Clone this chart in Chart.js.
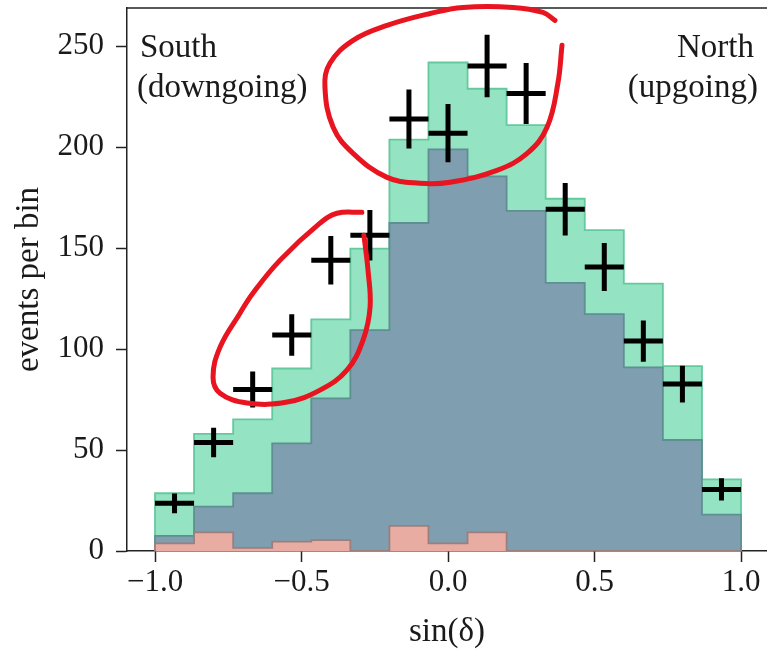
<!DOCTYPE html>
<html>
<head>
<meta charset="utf-8">
<script src="https://cdn.jsdelivr.net/npm/chart.js@4.4.0/dist/chart.umd.min.js"></script>
<style>
  html, body { margin: 0; padding: 0; background: #fff; }
  canvas { display: block; }
</style>
</head>
<body>
<canvas id="decChart" width="767" height="649"></canvas>
<script>
// bins in sin(dec)
const binEdges = [-1, -0.8667, -0.7333, -0.6, -0.4667, -0.3333, -0.2, -0.0667,
                  0.0667, 0.2, 0.3333, 0.4667, 0.6, 0.7333, 0.8667, 1];
const xTicks = [-1, -0.5, 0, 0.5, 1];
const yTicks = [0, 50, 100, 150, 200, 250];

// stacked expectation per bin, bottom to top (pink, blue, green)
const muonBg = [3.8, 9.2, 1.5, 4.6, 5.4, 0, 12.4, 3.8, 9.2, 0, 0, 0, 0, 0, 0];
const atmBg = [3.7, 12.8, 27.1, 48.7, 70.2, 109.4, 150.1, 195.2, 176.4, 168.5, 132.8, 117.3, 91, 55, 18];
const astroSig = [21.1, 36, 36.6, 37.1, 39.1, 40.4, 41.3, 43, 43.4, 42.5, 41.7, 41.7, 41.5, 36.6, 17.5];

// observed events and their errors
const observed = [23.6, 53.8, 80, 107, 144, 156.4, 214, 207, 240.3, 226.6, 169.3, 140.7, 104, 82.7, 30.5];
const obsErr = [4.9, 7.3, 8.9, 10.3, 12, 12.5, 14.6, 14.4, 15.5, 15.1, 13, 11.9, 10.2, 9.1, 5.5];

// red hand-drawn marks (data coordinates)
const loopTopX = [0.365, 0.324, 0.222, 0.051, -0.061, -0.208, -0.324, -0.403, -0.420, -0.392,
                  -0.324, -0.208, -0.096, 0.007, 0.167, 0.270, 0.338, 0.375, 0.389];
const loopTopY = [262.9, 266.8, 269.3, 269.3, 266.3, 260.4, 253.0, 241.6, 229.7, 209.9,
                  197.0, 185.1, 182.2, 182.7, 188.6, 197.0, 209.9, 231.7, 250.5];
const loopLeftX = [-0.294, -0.379, -0.437, -0.573, -0.666, -0.710, -0.778, -0.802, -0.778, -0.686,
                   -0.549, -0.437, -0.345, -0.290, -0.266, -0.273, -0.287];
const loopLeftY = [167.8, 167.3, 162.4, 144.1, 127.7, 117.8, 101.0, 86.1, 78.2, 73.3,
                   73.8, 79.7, 89.6, 104.5, 120.8, 139.1, 156.4];

const serif = "'Liberation Serif', 'DejaVu Serif', serif";
const nBins = binEdges.length - 1;
const centers = binEdges.slice(0, -1).map((e, i) => (e + binEdges[i + 1]) / 2);
const halfWidth = (binEdges[1] - binEdges[0]) / 2;

const pinkTop = muonBg.slice();
const blueTop = muonBg.map((v, i) => v + atmBg[i]);
const greenTop = blueTop.map((v, i) => v + astroSig[i]);

function stepPoints(tops) {
    const pts = [{x: binEdges[0], y: 0}];
    tops.forEach((v, i) => pts.push({x: binEdges[i], y: v}));
    pts.push({x: binEdges[nBins], y: tops[nBins - 1]});
    pts.push({x: binEdges[nBins], y: 0});
    return pts;
}

function stroke(xs, ys) {
    return {
        data: xs.map((x, i) => ({x: x, y: ys[i]})),
        borderColor: '#e8141f',
        borderWidth: 5,
        borderCapStyle: 'round',
        borderJoinStyle: 'round',
        tension: 0.4,
        pointRadius: 0,
        fill: false,
        clip: false
    };
}

function histo(tops, fillColor, edgeColor) {
    return {
        data: stepPoints(tops),
        stepped: true,
        borderColor: edgeColor,
        borderWidth: 1.8,
        backgroundColor: fillColor,
        fill: 'origin',
        pointRadius: 0
    };
}

// crosses for the observed counts
const errorBars = {
    id: 'errorBars',
    afterDatasetDraw(chart, args) {
        if (chart.data.datasets[args.index].label !== 'observed') return;
        const xs = chart.scales.x, ys = chart.scales.y, ctx = chart.ctx;
        ctx.save();
        ctx.strokeStyle = '#000';
        ctx.lineWidth = 5;
        observed.forEach((v, i) => {
            const cx = xs.getPixelForValue(centers[i]);
            const cy = ys.getPixelForValue(v);
            ctx.beginPath();
            ctx.moveTo(xs.getPixelForValue(centers[i] - halfWidth), cy);
            ctx.lineTo(xs.getPixelForValue(centers[i] + halfWidth), cy);
            ctx.moveTo(cx, ys.getPixelForValue(v - obsErr[i]));
            ctx.lineTo(cx, ys.getPixelForValue(v + obsErr[i]));
            ctx.stroke();
        });
        ctx.restore();
    }
};

const frameAndText = {
    id: 'frameAndText',
    beforeDatasetsDraw(chart) {
        const {ctx, chartArea: a} = chart;
        ctx.save();
        ctx.strokeStyle = '#222';
        ctx.lineWidth = 1.5;
        ctx.beginPath();
        ctx.moveTo(a.left, a.top);
        ctx.lineTo(a.right, a.top);
        ctx.stroke();
        ctx.fillStyle = '#1a1a1a';
        ctx.font = '33px ' + serif;
        ctx.textBaseline = 'alphabetic';
        ctx.textAlign = 'left';
        ctx.fillText('South', a.left + 13, a.top + 49);
        ctx.fillText('(downgoing)', a.left + 10, a.top + 89);
        ctx.textAlign = 'right';
        ctx.fillText('North', a.right - 13, a.top + 49);
        ctx.fillText('(upgoing)', a.right - 9, a.top + 89);
        ctx.restore();
    }
};

new Chart(document.getElementById('decChart'), {
    type: 'line',
    data: {
        datasets: [
            stroke(loopTopX, loopTopY),
            stroke(loopLeftX, loopLeftY),
            {
                label: 'observed',
                data: observed.map((v, i) => ({x: centers[i], y: v})),
                showLine: false,
                pointRadius: 0
            },
            histo(pinkTop, '#e8aca3', '#9c7f7c'),
            histo(blueTop, '#7f9eb0', '#5f8f92'),
            histo(greenTop, '#94e3c2', '#64c99d')
        ]
    },
    options: {
        responsive: false,
        animation: false,
        layout: {padding: {top: 8, right: 0, left: 0, bottom: 0}},
        elements: {line: {capBezierPoints: false}},
        plugins: {legend: {display: false}, tooltip: {enabled: false}},
        scales: {
            x: {
                type: 'linear',
                min: -1.0956,
                max: 1.0887,
                afterFit: s => { s.height = 98; s.paddingLeft = 0; s.paddingRight = 0; },
                afterBuildTicks: s => { s.ticks = xTicks.map(v => ({value: v})); },
                grid: {drawOnChartArea: false, color: '#222', tickLength: 11, tickWidth: 1.5},
                border: {display: true, color: '#222', width: 1.5},
                ticks: {
                    color: '#1a1a1a',
                    padding: 2,
                    maxRotation: 0,
                    font: {family: serif, size: 31},
                    callback: v => (v < 0 ? '\u2212' : '') + Math.abs(v).toFixed(1)
                },
                title: {
                    display: true,
                    text: 'sin(\u03b4)',
                    color: '#1a1a1a',
                    font: {family: serif, size: 33, lineHeight: 1.0},
                    padding: {top: 0, bottom: 0}
                }
            },
            y: {
                min: 0,
                max: 269,
                afterFit: s => { s.width = 127; s.paddingTop = 0; s.paddingBottom = 0; },
                afterBuildTicks: s => { s.ticks = yTicks.map(v => ({value: v})); },
                grid: {drawOnChartArea: false, color: '#222', tickLength: 11, tickWidth: 1.5},
                border: {display: true, color: '#222', width: 1.5},
                ticks: {
                    color: '#1a1a1a',
                    padding: 12,
                    font: {family: serif, size: 31}
                },
                title: {
                    display: true,
                    text: 'events per bin',
                    color: '#1a1a1a',
                    font: {family: serif, size: 33},
                    padding: {top: 10, bottom: 0}
                }
            }
        }
    },
    plugins: [errorBars, frameAndText]
});
</script>
</body>
</html>
